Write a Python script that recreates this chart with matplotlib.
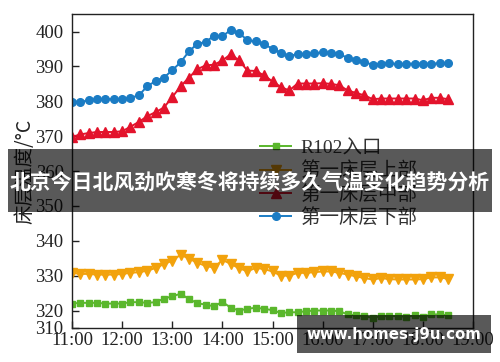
import numpy as np
import matplotlib.pyplot as plt
from matplotlib.patches import Rectangle

# Sampling every 10 minutes from 11:00 to 18:30
minutes = np.arange(0, 460, 10)
hours = 11 + minutes / 60.0

green_r102 = [322.0, 322.2, 322.2, 322.2, 322.0, 322.0, 322.0, 322.4, 322.4, 322.2,
              322.4, 323.4, 324.1, 324.8, 323.3, 322.1, 321.7, 321.2, 322.5, 320.8,
              320.0, 320.5, 320.8, 320.5, 320.1, 319.3, 319.5, 319.5, 319.8, 320.0,
              320.0, 320.0, 319.8, 318.9, 318.6, 318.4, 317.9, 318.4, 318.4, 318.4,
              318.2, 318.6, 318.2, 318.9, 318.9, 318.6]
orange_upper = [330.8, 330.5, 330.5, 330.3, 330.3, 330.3, 330.5, 330.8, 331.0, 331.4,
                332.2, 333.3, 334.3, 336.0, 334.9, 333.7, 332.8, 332.3, 334.5, 333.4,
                332.1, 331.3, 332.2, 331.9, 331.2, 330.0, 330.0, 330.8, 330.8, 331.0,
                331.2, 331.2, 330.8, 330.3, 329.8, 329.3, 328.9, 329.3, 329.0, 328.9,
                328.9, 328.9, 329.0, 329.5, 329.5, 329.1]
red_middle = [369.8, 370.5, 370.9, 371.2, 371.2, 371.2, 371.4, 372.7, 374.1, 375.7,
              376.9, 378.2, 381.2, 384.3, 386.8, 389.2, 390.3, 390.5, 391.7, 393.5,
              391.7, 388.8, 388.7, 387.4, 385.7, 384.1, 383.1, 385.1, 385.1, 385.1,
              385.2, 385.0, 384.6, 383.1, 382.4, 381.7, 380.6, 380.8, 380.8, 380.8,
              380.8, 380.8, 380.3, 381.0, 381.0, 380.6]
blue_lower = [379.8, 379.8, 380.3, 380.6, 380.6, 380.6, 380.6, 381.0, 381.7, 384.3,
              385.8, 386.8, 388.9, 391.2, 394.3, 396.5, 397.0, 398.8, 398.6, 400.5,
              399.6, 397.5, 397.2, 396.3, 395.1, 393.9, 392.9, 393.6, 393.6, 393.8,
              394.0, 393.9, 393.6, 392.4, 391.9, 391.2, 390.5, 390.8, 391.0, 390.6,
              390.8, 390.8, 390.8, 390.8, 390.9, 391.0]

series_names = ['R102入口', '第一床层上部', '第一床层中部', '第一床层下部']
x_ticks = [11, 12, 13, 14, 15, 16, 17, 18, 19]
x_labels = ['11:00', '12:00', '13:00', '14:00', '15:00', '16:00', '17:00', '18:00', '19:00']
y_ticks = [315, 320, 330, 340, 350, 360, 370, 380, 390, 400]
y_labels = ['310', '320', '330', '340', '350', '360', '370', '380', '390', '400']

cjk = ['Noto Sans CJK SC', 'DejaVu Sans']
serif = ['Liberation Serif', 'Noto Sans CJK SC']

fig = plt.figure(figsize=(5, 3.62), dpi=100)
ax = fig.add_axes([0.144, 0.094, 0.802, 0.867])

ax.plot(hours, green_r102, color='#5ab72c', marker='s', ms=4.8, lw=1.4, label=series_names[0])
ax.plot(hours, orange_upper, color='#f2a20c', marker='v', ms=6.5, lw=1.4, label=series_names[1])
ax.plot(hours, red_middle, color='#e3132c', marker='^', ms=6.5, lw=1.4, label=series_names[2])
ax.plot(hours, blue_lower, color='#1b7cc4', marker='o', ms=5.5, lw=1.4, label=series_names[3])

ax.set_xlim(11, 19)
ax.set_ylim(315, 405)
ax.set_xticks(x_ticks)
ax.set_xticklabels(x_labels, family=serif, fontsize=13.5)
ax.set_yticks(y_ticks)
ax.set_yticklabels(y_labels, family=serif, fontsize=13.5)
ax.tick_params(direction='in', length=5, width=1, pad=3, colors='#222222')
ax.tick_params(axis='y', pad=6)
for sp in ax.spines.values():
    sp.set_linewidth(1.0)
    sp.set_color('#222222')

ax.set_ylabel('床层温度/°C', family=cjk, fontsize=14, color='#222222', labelpad=0)

leg = ax.legend(loc='upper left', bbox_to_anchor=(0.45, 0.625), frameon=False,
                prop={'family': serif, 'size': 14}, handlelength=1.6,
                handletextpad=0.45, labelspacing=0.22, borderaxespad=0)
for t in leg.get_texts():
    t.set_color('#333333')

# Title banner overlay
fig.patches.append(Rectangle((0.016, 0.414), 0.968, 0.174, transform=fig.transFigure,
                             facecolor='black', alpha=0.65, edgecolor='none', zorder=10))
fig.text(0.5, 0.498, '北京今日北风劲吹寒冬将持续多久气温变化趋势分析', family=cjk,
         fontsize=15.0, fontweight='bold', color='white', ha='center', va='center', zorder=11)

# Watermark overlay
fig.patches.append(Rectangle((0.594, 0.025), 0.388, 0.105, transform=fig.transFigure,
                             facecolor='black', alpha=0.65, edgecolor='none', zorder=10))
fig.text(0.787, 0.075, 'www.homes-j9u.com', family=['DejaVu Sans'], fontsize=10.8,
         fontweight='bold', color='white', ha='center', va='center', zorder=11)

fig.savefig('out.png', dpi=100)
